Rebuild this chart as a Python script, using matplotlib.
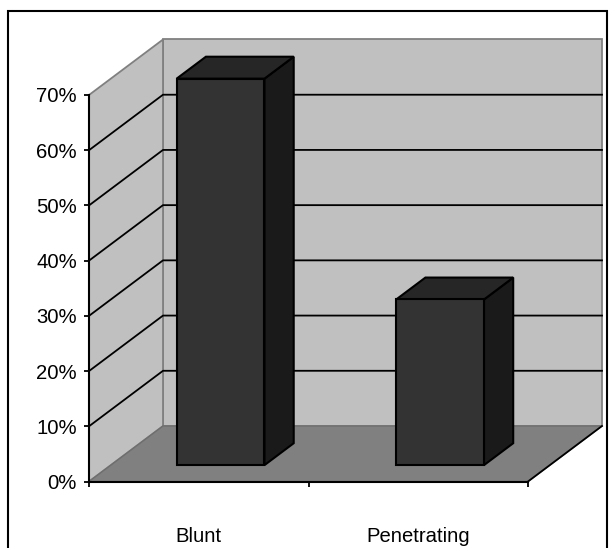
import matplotlib
matplotlib.use("Agg")
import matplotlib.pyplot as plt
from matplotlib.patches import Rectangle

plt.rcParams["font.family"] = ["Liberation Sans", "DejaVu Sans"]

categories = ["Blunt", "Penetrating"]
values = [70, 30]
y_ticks = [0, 10, 20, 30, 40, 50, 60, 70]
y_labels = ["0%", "10%", "20%", "30%", "40%", "50%", "60%", "70%"]

W, H = 611, 548
Y_MAX = 70

# 3D look: everything at depth d gets sheared by d * (DEPTH_X, DEPTH_Y)
DEPTH_X = 74 / 219.5   # in category units
DEPTH_Y = 55.5 / 386.5 * Y_MAX   # in percent units
BAR_WIDTH = 0.40
BAR_D0, BAR_D1 = 0.295, 0.69


def shear(x, y, d=0.0):
    return x + d * DEPTH_X, y + d * DEPTH_Y


def poly(ax, corners, **kw):
    xs, ys = zip(*[shear(*c) for c in corners])
    ax.fill(xs, ys, clip_on=False, **kw)


fig = plt.figure(figsize=(W / 100, H / 100), dpi=100)
fig.add_artist(Rectangle((8 / W, -0.05), 599 / W, 1 - 11 / H + 0.05,
                         transform=fig.transFigure, fill=False,
                         edgecolor="black", linewidth=1.5))

ax = fig.add_axes([89 / W, 1 - 481.5 / H, 439 / W, 386.5 / H])
ax.set_xlim(0, len(categories))
ax.set_ylim(0, Y_MAX)
ax.patch.set_visible(False)

n = len(categories)
wall = dict(facecolor="#c0c0c0", edgecolor="#808080", linewidth=1.3, zorder=1)
poly(ax, [(0, 0, 1), (n, 0, 1), (n, Y_MAX, 1), (0, Y_MAX, 1)], **wall)
poly(ax, [(0, 0, 0), (0, 0, 1), (0, Y_MAX, 1), (0, Y_MAX, 0)], **wall)
poly(ax, [(0, 0, 0), (n, 0, 0), (n, 0, 1), (0, 0, 1)],
     facecolor="#808080", edgecolor="#6e6e6e", linewidth=1.0, zorder=1.5)

# right floor edge is black in the original
x0, y0 = shear(n, 0, 0)
x1, y1 = shear(n, 0, 1)
ax.plot([x0, x1], [y0, y1], color="black", lw=1.3, clip_on=False, zorder=2)

# gridlines run along the side wall then across the back wall
for t in y_ticks[1:-1]:
    pts = [shear(0, t, 0), shear(0, t, 1), shear(n, t, 1)]
    ax.plot(*zip(*pts), color="black", lw=1.3, clip_on=False, zorder=2)

edge = dict(edgecolor="black", linewidth=1.5, joinstyle="miter", zorder=3)
for i, v in enumerate(values):
    left = i + 0.5 - BAR_WIDTH / 2
    right = i + 0.5 + BAR_WIDTH / 2
    poly(ax, [(right, 0, BAR_D0), (right, 0, BAR_D1), (right, v, BAR_D1),
              (right, v, BAR_D0)], facecolor="#1a1a1a", **edge)
    poly(ax, [(left, v, BAR_D0), (right, v, BAR_D0), (right, v, BAR_D1),
              (left, v, BAR_D1)], facecolor="#262626", **edge)
    poly(ax, [(left, 0, BAR_D0), (right, 0, BAR_D0), (right, v, BAR_D0),
              (left, v, BAR_D0)], facecolor="#333333", **edge)

for side in ["top", "right"]:
    ax.spines[side].set_visible(False)
for side in ["left", "bottom"]:
    ax.spines[side].set_linewidth(1.5)
    ax.spines[side].set_zorder(4)

ax.set_yticks(y_ticks)
ax.set_yticklabels(y_labels, fontsize=14.6)
ax.tick_params(axis="y", length=3.6, width=1.3, pad=5)

ax.set_xticks(range(n + 1))
ax.set_xticklabels([])
ax.set_xticks([i + 0.5 for i in range(n)], minor=True)
ax.set_xticklabels(categories, minor=True, fontsize=14.6)
ax.tick_params(axis="x", which="major", length=3.6, width=1.3)
ax.tick_params(axis="x", which="minor", length=0, pad=33)

fig.savefig("out.png", dpi=100)
